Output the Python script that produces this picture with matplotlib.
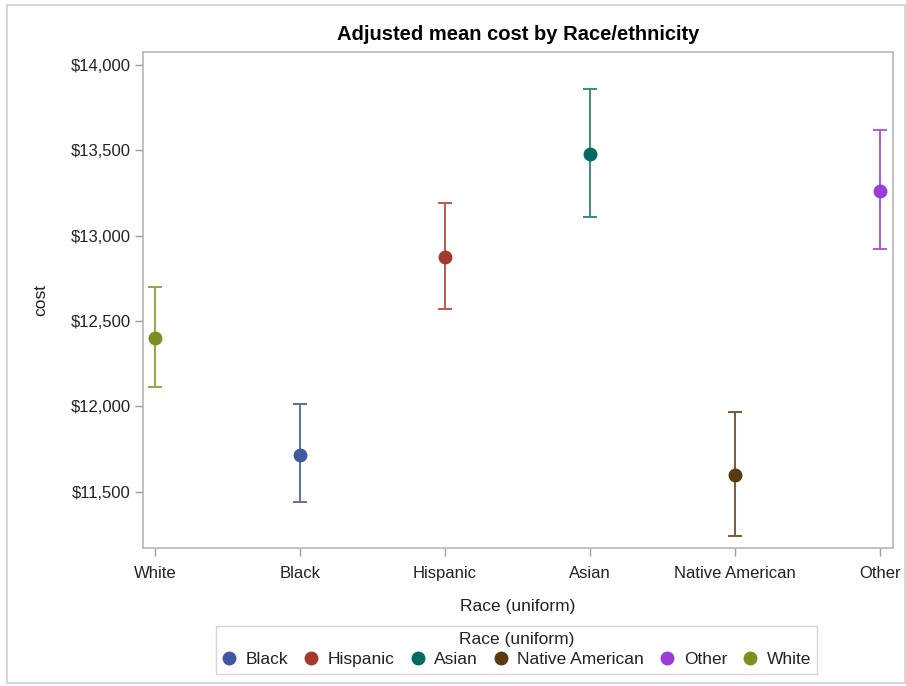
import matplotlib
matplotlib.use("Agg")
import matplotlib.pyplot as plt
from matplotlib.lines import Line2D
from matplotlib.patches import Rectangle

plt.rcParams['font.family'] = ['Liberation Sans', 'DejaVu Sans']

# data
categories = ['White', 'Black', 'Hispanic', 'Asian', 'Native American', 'Other']
means = [12402, 11714, 12876, 13477, 11597, 13261]
lower = [12111, 11440, 12568, 13111, 11241, 12920]
upper = [12697, 12011, 13193, 13861, 11964, 13619]
marker_colors = ['#7F8E1F', '#3F58A0', '#A33A2E', '#016B61', '#5A3A0E', '#9B3CD9']
bar_colors = ['#97A43F', '#5A6FB0', '#B85A50', '#3A8A82', '#7A5A35', '#AC5BE0']
legend_order = ['Black', 'Hispanic', 'Asian', 'Native American', 'Other', 'White']
y_ticks = [11500, 12000, 12500, 13000, 13500, 14000]

W, H = 906, 686
fig = plt.figure(figsize=(W / 100, H / 100), dpi=100, facecolor='white')
ax = fig.add_axes([143 / W, 1 - 548 / H, (893 - 143) / W, (548 - 52) / H])

for i, cat in enumerate(categories):
    ax.errorbar(i, means[i], yerr=[[means[i] - lower[i]], [upper[i] - means[i]]],
                fmt='none', ecolor=bar_colors[i], elinewidth=1.4, capsize=5, capthick=1.4, zorder=2)
    ax.plot(i, means[i], 'o', color=marker_colors[i], markersize=9, zorder=3)

ax.set_xlim(-0.083, 5.09)
ax.set_ylim(11169, 14076)
ax.set_xticks(range(len(categories)))
ax.set_xticklabels(categories)
ax.set_yticks(y_ticks)
ax.set_yticklabels(['${:,}'.format(v) for v in y_ticks])

for s in ax.spines.values():
    s.set_color('#B4B8BC')
    s.set_linewidth(1.2)
ax.tick_params(axis='both', colors='#9A9EA2', length=6, width=1, labelsize=12,
               labelcolor='#222222')
ax.tick_params(axis='x', pad=7)
ax.tick_params(axis='y', pad=3)

ax.set_xlabel('Race (uniform)', fontsize=12.5, color='#222222', labelpad=13)
ax.set_ylabel('cost', fontsize=12.5, color='#222222', labelpad=16)
ax.set_title('Adjusted mean cost by Race/ethnicity', fontsize=14.5, fontweight='bold', pad=9)

handles = []
for name in legend_order:
    c = marker_colors[categories.index(name)]
    handles.append(Line2D([], [], marker='o', linestyle='none', color=c, markersize=9, label=name))
leg = fig.legend(handles=handles, loc='upper left',
                 bbox_to_anchor=(216 / W, 1 - 672 / H, 601 / W, 46 / H), mode='expand', ncol=6,
                 title='Race (uniform)', fontsize=12.5, title_fontsize=12.5, frameon=True,
                 fancybox=False, edgecolor='#C8CCD0', handletextpad=0.55, columnspacing=0.86,
                 handlelength=0.8, borderpad=0.35, labelspacing=0.3, borderaxespad=0)
leg.get_frame().set_linewidth(1)
for t in leg.get_texts():
    t.set_color('#222222')
leg.get_title().set_color('#222222')

# outer frame of the graph
fig.patches.append(Rectangle((7 / W, 3 / H), (W - 8) / W, (H - 8) / H, transform=fig.transFigure,
                             fill=False, edgecolor='#D0D0D0', linewidth=1.2))

fig.savefig('out.png', dpi=100, facecolor='white')
